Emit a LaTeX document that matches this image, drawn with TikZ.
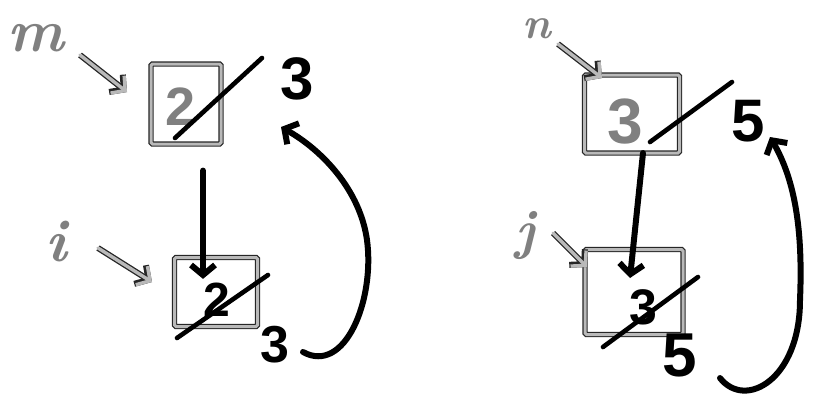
\documentclass[tikz,border=0pt]{standalone}
\usepackage{fontspec}
\setsansfont{Liberation Sans}
\usetikzlibrary{arrows.meta}
\tikzset{
  graybox/.style={draw=black!85, double=gray!55, double distance=3pt, line width=1.2pt, rounded corners=1.5pt, inner sep=0pt},
  grayarrow/.style={line cap=round, line join=round, draw=gray!55, line width=3.4pt,
     -{Straight Barb[length=10pt,width=22pt]},
     preaction={draw=black!85, line width=6pt, -{Straight Barb[length=10pt,width=22pt]}}},
  blackarrow/.style={line width=6pt, line cap=round, line join=round, -{Straight Barb[length=10pt,width=24pt]}},
  slashline/.style={line width=4.6pt, line cap=round},
  lbl/.style={inner sep=0pt, text=black!50, font=\fontsize{#1}{#1}\selectfont\bfseries\itshape},
  dig/.style={inner sep=0pt, font=\fontsize{#1}{#1}\selectfont\sffamily\bfseries},
  gdig/.style={dig=#1, text=black!50}
}
\begin{document}
\begin{tikzpicture}[x=1pt,y=-1pt]
\path[use as bounding box] (0,0) rectangle (815,400);
% ---------- left group ----------
\node[lbl=60] (mlab) at (36,38) {m};
\node[graybox, minimum width=70pt, minimum height=80pt] (mbox) at (186,104) {};
\node[gdig=54] (m2) at (181,107) {2};
\node[dig=60] (m3) at (297,79) {3};
\draw[slashline] ([shift={(-6,31)}]m2.center) -- ([shift={(-35,-21)}]m3.center);
\draw[grayarrow] ([shift={(44,17)}]mlab.center) -- ([shift={(-59,-12)}]mbox.center);

\node[graybox, minimum width=83pt, minimum height=69pt] (ibox) at (216,292) {};
\node[dig=48] (i2) at (217,300) {2};
\node[dig=52] (i3) at (275,345) {3};
\draw[slashline] ([shift={(-40,38)}]i2.center) -- ([shift={(51,-25)}]i2.center);
\node[lbl=60] (ilab) at (56,242) {i};
\draw[grayarrow] ([shift={(42,6)}]ilab.center) -- ([shift={(-64,-10)}]ibox.center);

\draw[blackarrow] ([shift={(17,26)}]mbox.south) -- ([shift={(-13,22)}]ibox.north);
\draw[blackarrow] ([shift={(28,7)}]i3.center) .. controls (345,375) and (375,300) .. (367,240)
   .. controls (360,190) and (322,150) .. ([shift={(-16,48)}]m3.center);

% ---------- right group ----------
\node[lbl=44] (nlab) at (537,29) {n};
\node[graybox, minimum width=95pt, minimum height=78pt] (nbox) at (632,114) {};
\node[gdig=64] (n3) at (625,122) {3};
\node[dig=60] (n5) at (748,121) {5};
\draw[slashline] ([shift={(25,20)}]n3.center) -- ([shift={(107,-40)}]n3.center);
\draw[grayarrow] ([shift={(21,15)}]nlab.center) -- ([shift={(-30,-36)}]nbox.center);

\node[graybox, minimum width=98pt, minimum height=85pt] (jbox) at (634,292) {};
\node[dig=50] (j3) at (643,307) {3};
\node[dig=62] (j5) at (680,355) {5};
\draw[slashline] ([shift={(-40,40)}]j3.center) -- ([shift={(55,-30)}]j3.center);
\node[lbl=55] (jlab) at (525,236) {j};
\draw[grayarrow] ([shift={(28,-3)}]jlab.center) -- ([shift={(-47,-25)}]jbox.center);

\draw[blackarrow] ([shift={(11,39)}]nbox.center) -- ([shift={(-4,-14)}]jbox.center);
\draw[blackarrow] ([shift={(40,23)}]j5.center) .. controls (745,410) and (800,380) .. (800,300)
   .. controls (803,230) and (795,180) .. ([shift={(22,16)}]n5.center);
\end{tikzpicture}
\end{document}
